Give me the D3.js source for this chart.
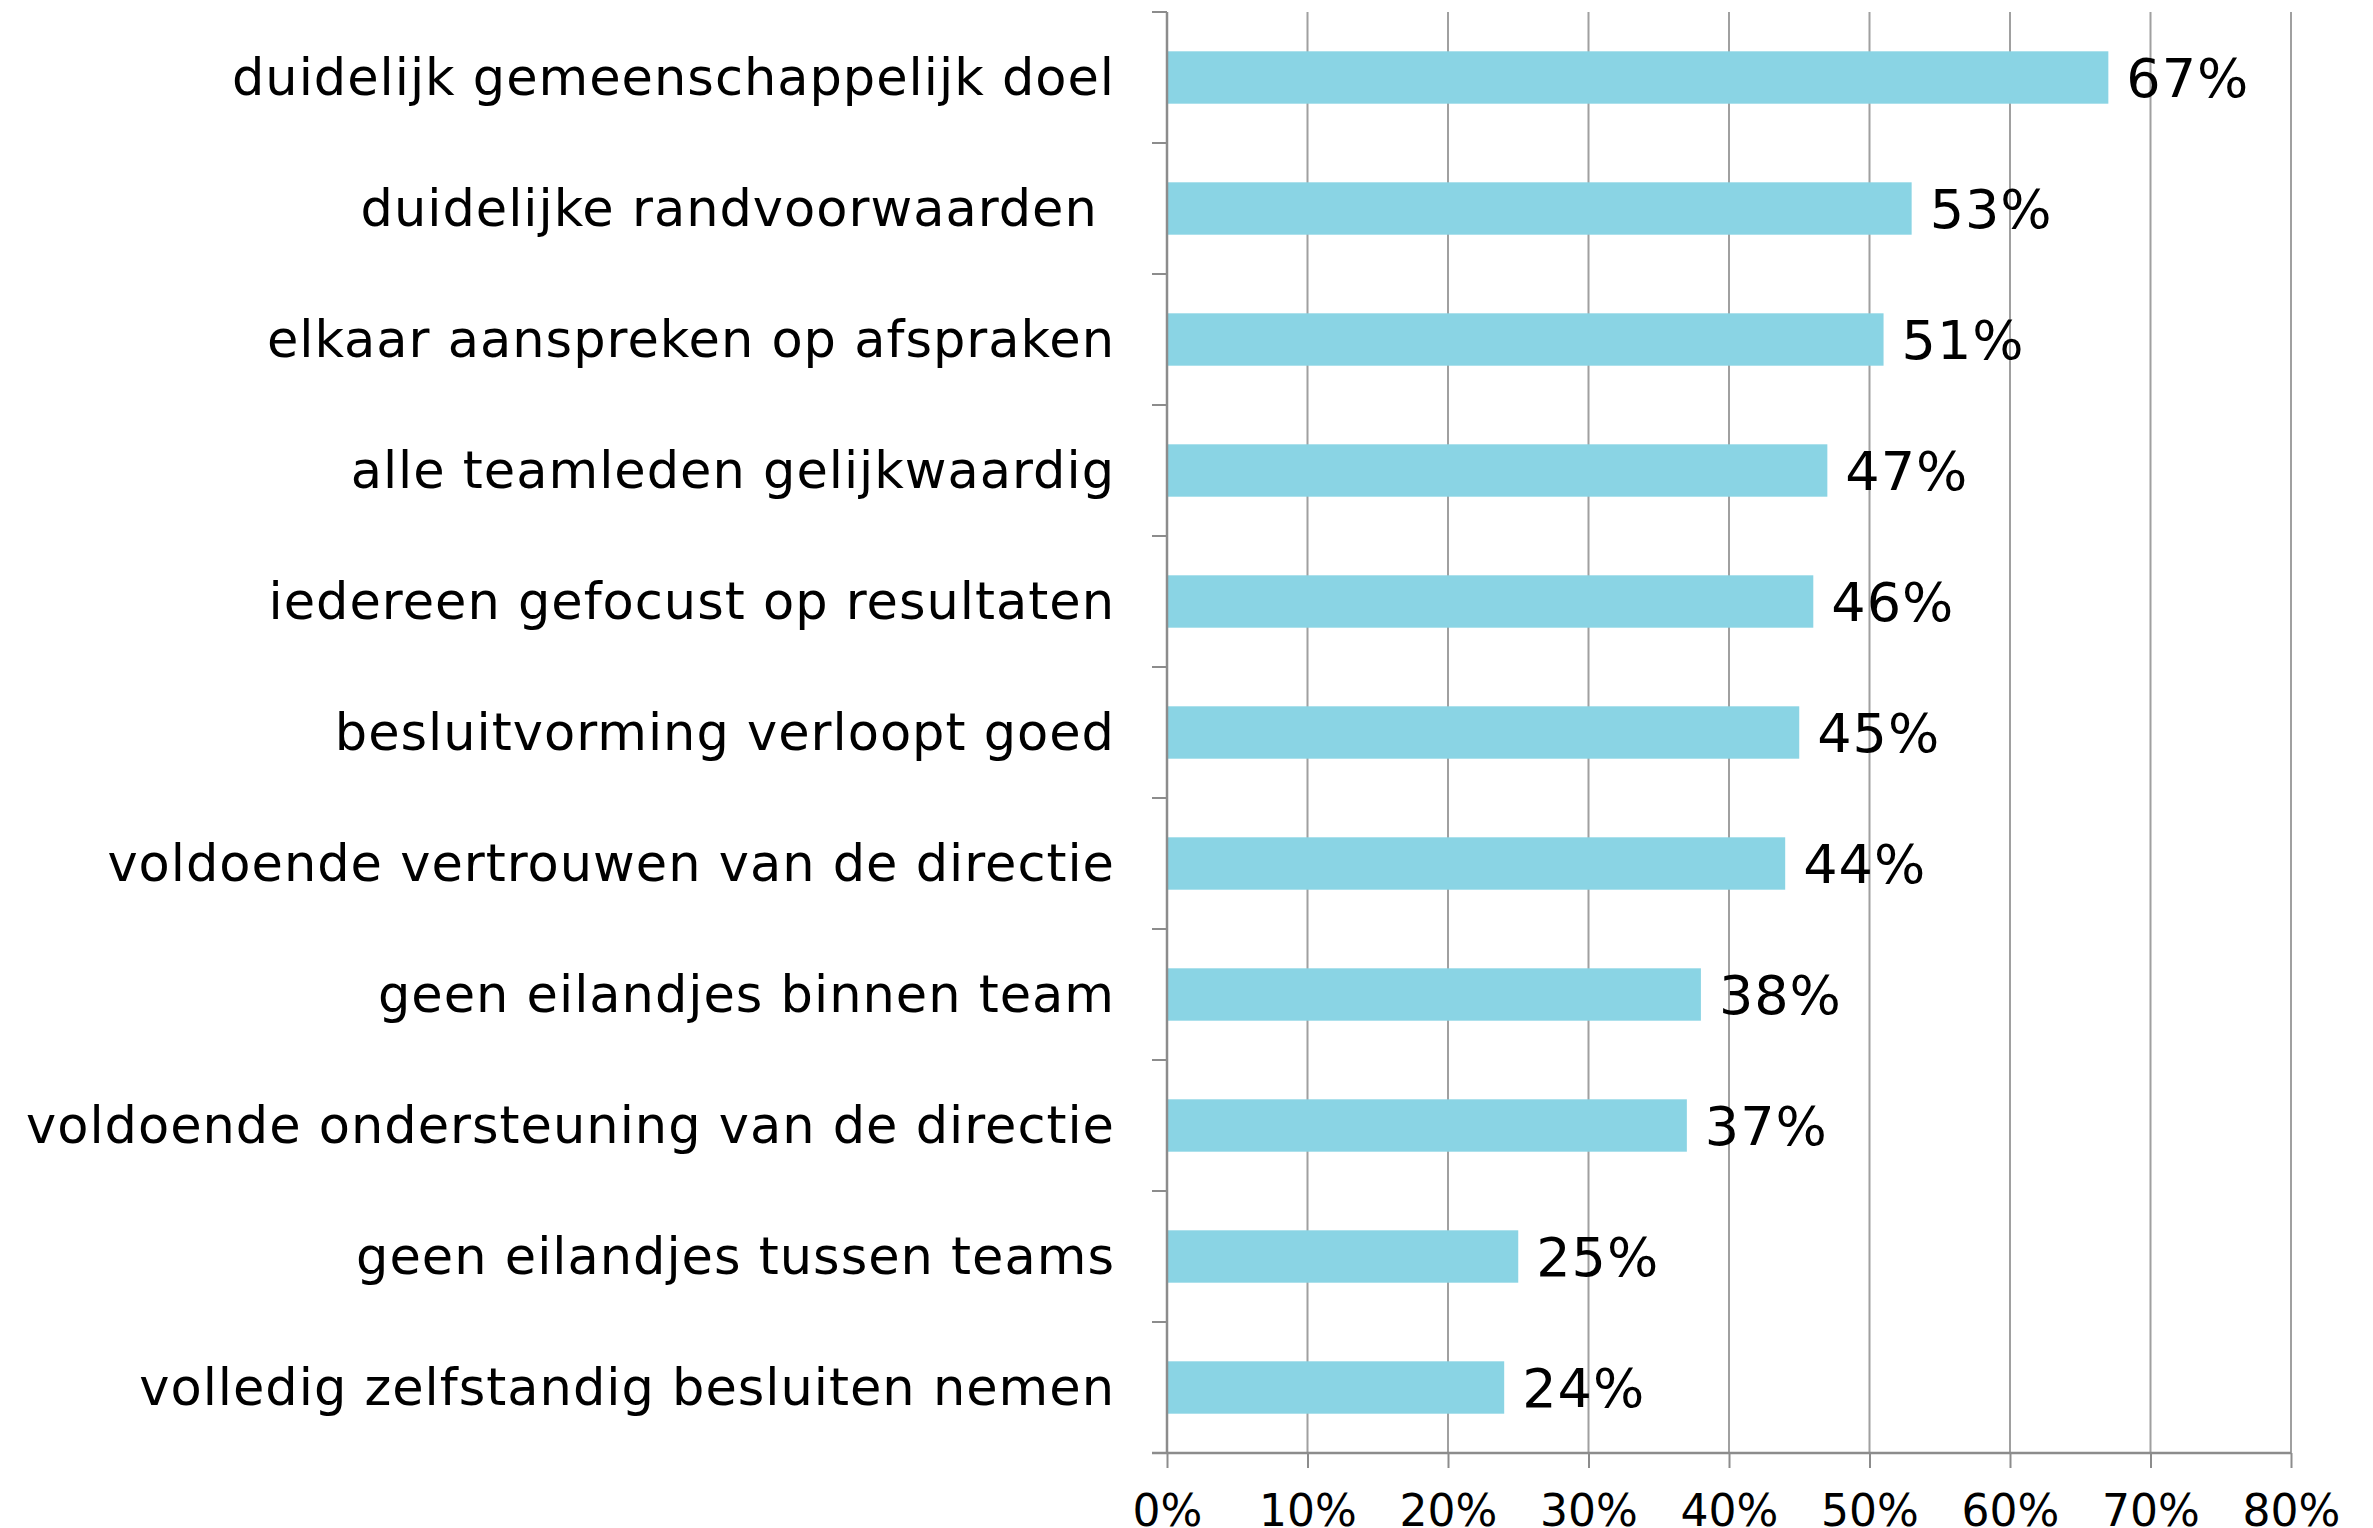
<!DOCTYPE html>
<html>
<head>
<meta charset="utf-8">
<script src="https://cdn.jsdelivr.net/npm/d3@7"></script>
<style>
  html, body { margin: 0; padding: 0; background: #fff; }
  svg { display: block; font-family: "DejaVu Sans", Verdana, sans-serif; }
  .cat { white-space: pre; }
</style>
</head>
<body>
<svg id="chart" width="2373" height="1528"></svg>
<script>
// categories top to bottom
const categories = [
    "duidelijk gemeenschappelijk doel",
    "duidelijke randvoorwaarden ",
    "elkaar aanspreken op afspraken",
    "alle teamleden gelijkwaardig",
    "iedereen gefocust op resultaten",
    "besluitvorming verloopt goed",
    "voldoende vertrouwen van de directie",
    "geen eilandjes binnen team",
    "voldoende ondersteuning van de directie",
    "geen eilandjes tussen teams",
    "volledig zelfstandig besluiten nemen"
];
const values = [0.67, 0.53, 0.51, 0.47, 0.46, 0.45, 0.44, 0.38, 0.37, 0.25, 0.24];
const xTicks = [0, 0.1, 0.2, 0.3, 0.4, 0.5, 0.6, 0.7, 0.8];

const BAR = "#8AD4E4";
const GRID = "#a0a0a0";
const AXIS = "#8c8c8c";

const W = 2373, H = 1528;
const margin = { top: 12, right: 82, bottom: 75, left: 1167 };

const svg = d3.select("#chart");

const x = d3.scaleLinear()
    .domain([0, 0.8])
    .range([margin.left, W - margin.right]);

const y = d3.scaleBand()
    .domain(categories)
    .range([margin.top, H - margin.bottom])
    .paddingInner(0.6)
    .paddingOuter(0.3);

// full-category bands, used for the left axis ticks
const yTicks = d3.range(categories.length + 1)
    .map(i => margin.top + i * (H - margin.bottom - margin.top) / categories.length);

// vertical gridlines
svg.append("g")
    .selectAll("line")
    .data(xTicks.slice(1))
    .enter().append("line")
    .attr("x1", d => x(d)).attr("x2", d => x(d))
    .attr("y1", margin.top).attr("y2", H - margin.bottom)
    .attr("stroke", GRID)
    .attr("stroke-width", 2);

// bottom axis
const xAxis = svg.append("g")
    .attr("transform", `translate(0,${H - margin.bottom})`)
    .call(d3.axisBottom(x).tickValues(xTicks).tickFormat(d3.format(".0%")).tickSize(15).tickPadding(27));
xAxis.select(".domain").attr("stroke", AXIS).attr("stroke-width", 2.5)
    .attr("d", `M${x(0) - 15},0H${x(0.8)}`);
xAxis.selectAll(".tick line").attr("stroke", AXIS).attr("stroke-width", 2);
xAxis.selectAll(".tick text")
    .attr("font-size", 44)
    .attr("fill", "#000")
    .attr("font-family", "DejaVu Sans, Verdana, sans-serif");

// bars
svg.append("g")
    .selectAll("rect")
    .data(values)
    .enter().append("rect")
    .attr("x", x(0))
    .attr("y", (d, i) => y(categories[i]))
    .attr("width", d => x(d) - x(0))
    .attr("height", y.bandwidth())
    .attr("fill", BAR);

// left axis line and ticks
svg.append("line")
    .attr("x1", x(0)).attr("x2", x(0))
    .attr("y1", margin.top).attr("y2", H - margin.bottom)
    .attr("stroke", AXIS).attr("stroke-width", 2.5);
svg.append("g")
    .selectAll("line")
    .data(yTicks)
    .enter().append("line")
    .attr("x1", x(0) - 15).attr("x2", x(0))
    .attr("y1", d => d).attr("y2", d => d)
    .attr("stroke", AXIS).attr("stroke-width", 2);

// category labels
svg.append("g")
    .selectAll("text")
    .data(categories)
    .enter().append("text")
    .attr("class", "cat")
    .attr("x", x(0) - 52)
    .attr("y", d => y(d) + y.bandwidth() / 2)
    .attr("dy", "0.35em")
    .attr("text-anchor", "end")
    .attr("font-size", 51)
    .attr("letter-spacing", 1)
    .text(d => d);

// value labels
svg.append("g")
    .selectAll("text")
    .data(values)
    .enter().append("text")
    .attr("x", d => x(d) + 18)
    .attr("y", (d, i) => y(categories[i]) + y.bandwidth() / 2)
    .attr("dy", "0.36em")
    .attr("font-size", 54)
    .attr("letter-spacing", 1)
    .text(d => Math.round(d * 100) + "%");
</script>
</body>
</html>
